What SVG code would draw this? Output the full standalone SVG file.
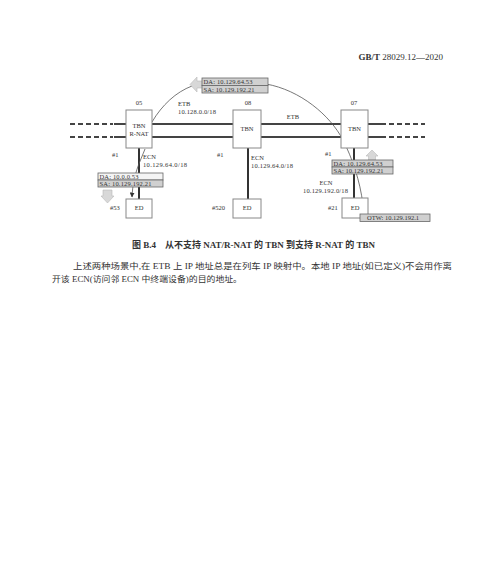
<svg xmlns="http://www.w3.org/2000/svg" width="500" height="565" viewBox="0 0 500 565">
<style>
text{font-family:"Liberation Serif","Noto Sans CJK SC",serif;fill:#333}
.s{font-size:6.5px}
.m{text-anchor:middle}
.box{fill:#fff;stroke:#888;stroke-width:1}
.bus{stroke:#444;stroke-width:2;fill:none}
.dash{stroke:#444;stroke-width:2;fill:none;stroke-dasharray:5 3}
.ecn{stroke:#333;stroke-width:2;fill:none}
.thin{stroke:#555;stroke-width:0.8;fill:none}
.lbl{fill:#d0d0d0;stroke:#666;stroke-width:0.8}
.lblw{fill:#f4f4f4;stroke:#666;stroke-width:0.8}
.blk{fill:#d8d8d8;stroke:#bbb;stroke-width:0.6}
</style>
<defs>
<marker id="ah" markerWidth="5" markerHeight="5" refX="4.5" refY="2.5" orient="auto" markerUnits="userSpaceOnUse">
<path d="M0,0 L5,2.5 L0,5 z" fill="#333"/>
</marker>
</defs>
<rect width="500" height="565" fill="#fff"/>
<text x="443" y="60" text-anchor="end" style="font-size:9px"><tspan font-weight="bold">GB/T</tspan> 28029.12—2020</text>

<g id="connectors">
<path class="dash" d="M70,124 H113 M70,137 H113"/>
<path class="bus" d="M114,124 H126 M114,137 H126"/>
<path class="bus" d="M152,124 H341 M152,137 H341"/>
<path class="bus" d="M368,124 H386 M368,137 H386"/>
<path class="dash" d="M389,124 H425 M389,137 H425"/>
<path class="ecn" d="M139,148 V199 M248,148 V199 M354,148 V198"/>
<path class="thin" d="M152,122 C162,105 176,92 192,86"/>
<path class="thin" d="M266,84 C300,90 330,115 343,140 C352,158 360,180 363,205"/>
<path class="thin" d="M145,149 C140,162 133,174 132,197" marker-end="url(#ah)"/>
</g>

<g id="n05">
<rect class="box" x="126" y="110" width="26" height="38"/>
<text class="s m" x="139" y="128">TBN</text>
<text class="s m" x="139" y="135.5">R-NAT</text>
<text class="s m" x="139" y="105">05</text>
<text class="s" x="112" y="157">#1</text>
</g>
<g id="n08">
<rect class="box" x="233" y="110" width="28" height="38"/>
<text class="s m" x="247" y="131">TBN</text>
<text class="s m" x="248" y="105">08</text>
<text class="s" x="217" y="157">#1</text>
</g>
<g id="n07">
<rect class="box" x="341" y="110" width="27" height="38"/>
<text class="s m" x="354.5" y="131">TBN</text>
<text class="s m" x="354" y="105">07</text>
<text class="s" x="325" y="156">#1</text>
</g>

<g id="ed53">
<rect class="box" x="126" y="199" width="26" height="19"/>
<text class="s m" x="139" y="210">ED</text>
<text class="s" x="110" y="210">#53</text>
</g>
<g id="ed520">
<rect class="box" x="233" y="199" width="28" height="19"/>
<text class="s m" x="247" y="210">ED</text>
<text class="s" x="212" y="210">#520</text>
</g>
<g id="ed21">
<rect class="box" x="342" y="198" width="26" height="20"/>
<text class="s m" x="355" y="210">ED</text>
<text class="s" x="328" y="210">#21</text>
</g>

<g id="etb-labels">
<text class="s" x="178" y="106">ETB</text>
<text class="s" x="178" y="113.5" textLength="38" lengthAdjust="spacing">10.128.0.0/18</text>
<text class="s m" x="293" y="119">ETB</text>
<text class="s" x="143" y="159">ECN</text>
<text class="s" x="143" y="167" textLength="44" lengthAdjust="spacing">10.129.64.0/18</text>
<text class="s" x="251" y="160">ECN</text>
<text class="s" x="251" y="168" textLength="42" lengthAdjust="spacing">10.129.64.0/18</text>
<text class="s m" x="326" y="185">ECN</text>
<text class="s" x="303" y="193" textLength="45" lengthAdjust="spacing">10.129.192.0/18</text>
</g>

<g id="label-top">
<path class="blk" d="M190,84.5 L197,77 V81 H203 V88 H197 V92 Z"/>
<rect class="lbl" x="202" y="78" width="66" height="7.5"/>
<rect class="lbl" x="202" y="85.5" width="66" height="7.5"/>
<text class="s" x="203.5" y="84" textLength="49" lengthAdjust="spacing">DA: 10.129.64.53</text>
<text class="s" x="203.5" y="91.5" textLength="51" lengthAdjust="spacing">SA: 10.129.192.21</text>
</g>

<g id="label-05">
<rect class="lblw" x="98" y="173" width="65" height="7"/>
<rect class="lbl" x="98" y="180" width="65" height="7"/>
<text class="s" x="99.5" y="178.6" textLength="39" lengthAdjust="spacing">DA: 10.0.0.53</text>
<text class="s" x="99.5" y="185.6" textLength="52" lengthAdjust="spacing">SA: 10.129.192.21</text>
<path class="blk" d="M103,190 H112 V196 H114 L107.5,203 L101,196 H103 Z"/>
</g>

<g id="label-07">
<path class="blk" d="M372,150 L378,156 H375.5 V160 H368.5 V156 H366 Z"/>
<rect class="lbl" x="332" y="160" width="61" height="7"/>
<rect class="lbl" x="332" y="167" width="61" height="7"/>
<text class="s" x="333.5" y="165.6" textLength="49" lengthAdjust="spacing">DA: 10.129.64.53</text>
<text class="s" x="333.5" y="172.6" textLength="50" lengthAdjust="spacing">SA: 10.129.192.21</text>
</g>

<g id="label-otw">
<rect class="lbl" x="360" y="214" width="70" height="7.5"/>
<text class="s" x="367" y="220.2" textLength="52" lengthAdjust="spacing">OTW: 10.129.192.1</text>
</g>

<text x="132" y="248" style="font-size:9px;font-weight:bold">图 B.4<tspan dx="9">从不支持 NAT/R-NAT 的 TBN 到支持 R-NAT 的 TBN</tspan></text>
<text x="73" y="268.5" style="font-size:8.5px" textLength="379" lengthAdjust="spacingAndGlyphs">上述两种场景中,在 ETB 上 IP 地址总是在列车 IP 映射中。本地 IP 地址(如已定义)不会用作离</text>
<text x="52" y="282" style="font-size:8.5px" textLength="190" lengthAdjust="spacingAndGlyphs">开该 ECN(访问邻 ECN 中终端设备)的目的地址。</text>
</svg>
